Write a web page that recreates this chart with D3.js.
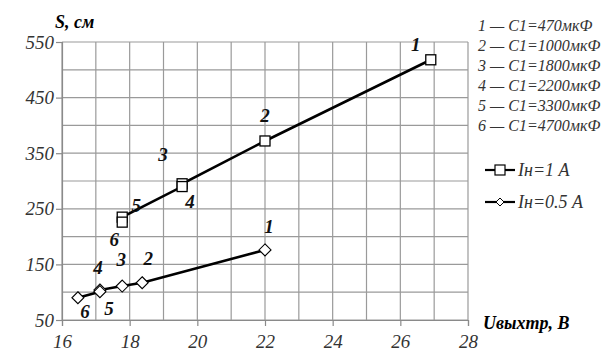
<!DOCTYPE html>
<html>
<head>
<meta charset="utf-8">
<script src="https://cdn.jsdelivr.net/npm/d3@7"></script>
<style>
  body { margin: 0; background: #fff; }
</style>
</head>
<body>
<svg width="610" height="363"></svg>
<script>
// data
const voltage1A = [26.9, 22.0, 19.55, 19.55, 17.78, 17.78]
const dist1A = [518, 372, 295, 290, 235, 226]
const labels1A = ["1", "2", "3", "4", "5", "6"]

const voltage05A = [22.0, 18.37, 17.78, 17.12, 17.12, 16.47]
const dist05A = [176, 117, 111, 104, 101, 90]
const labels05A = ["1", "2", "3", "4", "5", "6"]

const xTicks = [16, 18, 20, 22, 24, 26, 28]
const yTicks = [50, 150, 250, 350, 450, 550]
const capLegend = ["1 — C1=470мкФ", "2 — C1=1000мкФ", "3 — C1=1800мкФ",
  "4 — C1=2200мкФ", "5 — C1=3300мкФ", "6 — C1=4700мкФ"]
const seriesNames = ["Iн=1 А", "Iн=0.5 А"]

const svg = d3.select("svg")
const margin = { top: 42, left: 62 }
const width = 406, height = 278

// serif italic text helper: set both attribute and style so any renderer picks it up
function serif(sel, size, weight) {
  return sel
    .attr("font-family", "Liberation Serif").style("font-family", '"Liberation Serif"')
    .attr("font-size", size).style("font-size", size + "px")
    .attr("font-style", "italic").style("font-style", "italic")
    .attr("font-weight", weight || "normal").style("font-weight", weight || "normal")
}

const x = d3.scaleLinear().domain([16, 28]).range([0, width])
const y = d3.scaleLinear().domain([50, 550]).range([height, 0])

const g = svg.append("g").attr("transform", `translate(${margin.left},${margin.top})`)

// grid
g.append("g").selectAll("line").data(d3.range(16, 29, 1)).join("line")
  .attr("x1", d => x(d)).attr("x2", d => x(d))
  .attr("y1", 0).attr("y2", height)
  .attr("stroke", "#9a9a9a").attr("stroke-width", 1.2)
g.append("g").selectAll("line").data(d3.range(50, 551, 50)).join("line")
  .attr("x1", 0).attr("x2", width)
  .attr("y1", d => y(d)).attr("y2", d => y(d))
  .attr("stroke", "#9a9a9a").attr("stroke-width", 1.2)

// axes
const xAxis = g.append("g").attr("transform", `translate(0,${height})`)
  .call(d3.axisBottom(x).tickValues(xTicks).tickSize(6).tickPadding(9))
const yAxis = g.append("g")
  .call(d3.axisLeft(y).tickValues(yTicks).tickSize(6).tickPadding(2))
for (const ax of [xAxis, yAxis]) {
  ax.attr("font-family", "Liberation Serif").attr("font-size", 19)
  ax.select(".domain").attr("stroke", "#8a8a8a").attr("stroke-width", 1.2)
  ax.selectAll(".tick line").attr("stroke", "#8a8a8a").attr("stroke-width", 1.2)
  serif(ax.selectAll("text"), 19).attr("fill", "#333")
}

// lines
const line = d3.line().x(d => x(d[0])).y(d => y(d[1]))
const pts1 = voltage1A.map((v, i) => [v, dist1A[i]])
const pts05 = voltage05A.map((v, i) => [v, dist05A[i]])

g.append("path").datum(pts1).attr("d", line)
  .attr("fill", "none").attr("stroke", "#000").attr("stroke-width", 2.6)
g.append("path").datum(pts05).attr("d", line)
  .attr("fill", "none").attr("stroke", "#000").attr("stroke-width", 2.6)

// markers
g.append("g").selectAll("rect").data(pts1).join("rect")
  .attr("x", d => x(d[0]) - 5).attr("y", d => y(d[1]) - 5)
  .attr("width", 10).attr("height", 10)
  .attr("fill", "#fff").attr("stroke", "#000").attr("stroke-width", 1.3)
g.append("g").selectAll("path").data(pts05).join("path")
  .attr("d", "M0,-6L6,0L0,6L-6,0Z")
  .attr("transform", d => `translate(${x(d[0])},${y(d[1])})`)
  .attr("fill", "#fff").attr("stroke", "#000").attr("stroke-width", 1.1)

// point labels (offsets from each point, to the text baseline)
const off1A = [[-15, -9], [0, -19], [-19, -23], [8, 21], [14, -5], [-8, 24]]
const off05A = [[4, -17], [6, -18], [-1, -20], [-2, -16], [9, 23], [7, 20]]
function pointLabels(pts, labels, offs) {
  serif(g.append("g").selectAll("text").data(pts).join("text"), 19, "bold")
    .attr("x", (d, i) => x(d[0]) + offs[i][0])
    .attr("y", (d, i) => y(d[1]) + offs[i][1])
    .attr("text-anchor", "middle")
    .attr("fill", "#111")
    .text((d, i) => labels[i])
}
pointLabels(pts1, labels1A, off1A)
pointLabels(pts05, labels05A, off05A)

// axis titles
serif(svg.append("text"), 18, "bold").attr("x", 55).attr("y", 28).text("S, см")
serif(svg.append("text"), 18, "bold").attr("x", 483).attr("y", 329).text("Uвыхтр, В")

// capacitor legend
serif(svg.append("g").selectAll("text").data(capLegend).join("text"), 16)
  .attr("x", 478).attr("y", (d, i) => 31 + i * 20)
  .attr("fill", "#333")
  .text(d => d)

// series legend
const leg = svg.append("g")
seriesNames.forEach((name, i) => {
  const ly = 170 + i * 32
  leg.append("line").attr("x1", 485).attr("x2", 515).attr("y1", ly).attr("y2", ly)
    .attr("stroke", "#000").attr("stroke-width", 2.2)
  if (i === 0) {
    leg.append("rect").attr("x", 495).attr("y", ly - 5).attr("width", 10).attr("height", 10)
      .attr("fill", "#fff").attr("stroke", "#000").attr("stroke-width", 1.2)
  } else {
    leg.append("path").attr("d", "M0,-4L4,0L0,4L-4,0Z")
      .attr("transform", `translate(500,${ly})`)
      .attr("fill", "#fff").attr("stroke", "#000").attr("stroke-width", 1)
  }
  serif(leg.append("text"), 18).attr("x", 518).attr("y", ly + 6)
    .attr("fill", "#333")
    .text(name)
})
</script>
</body>
</html>
